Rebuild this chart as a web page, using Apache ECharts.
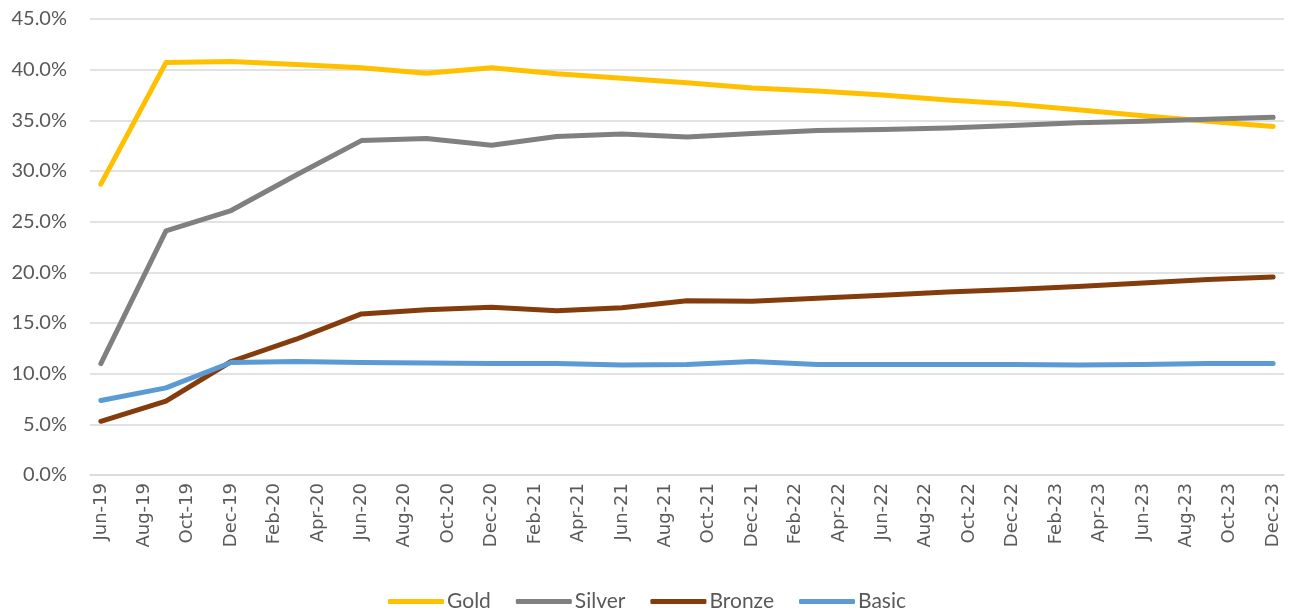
<!DOCTYPE html>
<html>
<head>
<meta charset="utf-8">
<script src="https://cdn.jsdelivr.net/npm/echarts@6/dist/echarts.min.js"></script>
<style>
  html, body { margin: 0; padding: 0; background: #fff; }
  #chart { width: 1294px; height: 610px; }
</style>
</head>
<body>
<div id="chart"></div>
<script>
// monthly date axis, Jun-19 .. Dec-23
const months = [
  'Jun-19','Jul-19','Aug-19','Sep-19','Oct-19','Nov-19','Dec-19',
  'Jan-20','Feb-20','Mar-20','Apr-20','May-20','Jun-20','Jul-20','Aug-20','Sep-20','Oct-20','Nov-20','Dec-20',
  'Jan-21','Feb-21','Mar-21','Apr-21','May-21','Jun-21','Jul-21','Aug-21','Sep-21','Oct-21','Nov-21','Dec-21',
  'Jan-22','Feb-22','Mar-22','Apr-22','May-22','Jun-22','Jul-22','Aug-22','Sep-22','Oct-22','Nov-22','Dec-22',
  'Jan-23','Feb-23','Mar-23','Apr-23','May-23','Jun-23','Jul-23','Aug-23','Sep-23','Oct-23','Nov-23','Dec-23'
];

// quarterly observations
const quarters = [
  'Jun-19','Sep-19','Dec-19','Mar-20','Jun-20','Sep-20','Dec-20','Mar-21','Jun-21','Sep-21',
  'Dec-21','Mar-22','Jun-22','Sep-22','Dec-22','Mar-23','Jun-23','Sep-23','Dec-23'
];

const gold   = [28.7, 40.7, 40.8, 40.5, 40.2, 39.65, 40.2, 39.6, 39.15, 38.7, 38.2, 37.9, 37.5, 37.0, 36.6, 36.05, 35.45, 34.9, 34.4];
const silver = [11.0, 24.1, 26.1, 29.6, 33.0, 33.2, 32.55, 33.4, 33.65, 33.35, 33.7, 34.0, 34.1, 34.25, 34.5, 34.75, 34.9, 35.1, 35.3];
const bronze = [5.3, 7.3, 11.2, 13.4, 15.9, 16.3, 16.55, 16.2, 16.5, 17.2, 17.15, 17.45, 17.75, 18.05, 18.3, 18.6, 18.95, 19.3, 19.55];
const basic  = [7.35, 8.6, 11.1, 11.2, 11.1, 11.05, 11.0, 11.0, 10.85, 10.9, 11.2, 10.9, 10.9, 10.9, 10.9, 10.85, 10.9, 11.0, 11.0];

const names  = ['Gold', 'Silver', 'Bronze', 'Basic'];
const colors = ['#FFC000', '#808080', '#843C0C', '#5B9BD5'];
const values = [gold, silver, bronze, basic];

const chart = echarts.init(document.getElementById('chart'));

const option = {
  animation: false,
  color: colors,
  grid: { left: 90, right: 10, top: 19, bottom: 135, containLabel: false },
  legend: {
    top: 586,
    left: 'center',
    icon: 'roundRect',
    itemWidth: 56,
    itemHeight: 5,
    itemGap: 25,
    textStyle: {
      color: '#595959',
      fontSize: 21,
      fontFamily: 'Lato, sans-serif',
      padding: [0, 0, 0, -2]
    }
  },
  xAxis: {
    type: 'category',
    data: months,
    boundaryGap: true,
    axisLine: { lineStyle: { color: '#D9D9D9', width: 1.5 } },
    axisTick: { interval: 1, length: 5, lineStyle: { color: '#D9D9D9', width: 1.5 } },
    axisLabel: {
      interval: 1,
      rotate: 90,
      margin: 8,
      color: '#595959',
      fontSize: 18,
      fontFamily: '"DejaVu Sans", sans-serif'
    },
    splitLine: { show: false }
  },
  yAxis: {
    type: 'value',
    min: 0,
    max: 45,
    interval: 5,
    axisLine: { show: false },
    axisTick: { show: false },
    axisLabel: {
      margin: 23,
      color: '#595959',
      fontSize: 20,
      fontFamily: 'Lato, sans-serif',
      formatter: v => v.toFixed(1) + '%'
    },
    splitLine: { lineStyle: { color: '#D9D9D9', width: 1.5 } }
  },
  series: names.map((name, i) => ({
    name: name,
    type: 'line',
    symbol: 'none',
    data: quarters.map((q, j) => [q, values[i][j]]),
    lineStyle: { width: 5, color: colors[i], cap: 'round', join: 'round' }
  }))
};

chart.setOption(option);
</script>
</body>
</html>
